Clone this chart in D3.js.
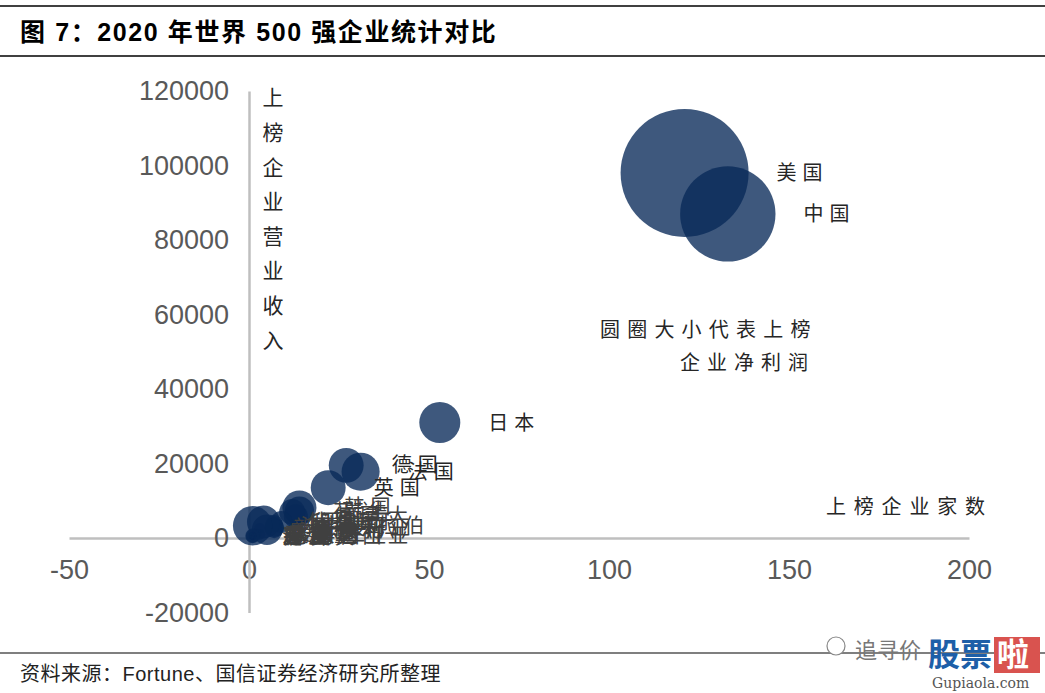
<!DOCTYPE html>
<html><head><meta charset="utf-8">
<script src="https://cdn.jsdelivr.net/npm/d3@7/dist/d3.min.js"></script>
<style>
html,body{margin:0;padding:0;background:#fff;}
svg{display:block;}
</style></head>
<body>
<script>
// ---- data ----
const countries = ["美国","中国","日本","德国","法国","英国","韩国","瑞士","加拿大","荷兰","西班牙","印度","巴西","澳大利亚","意大利","俄罗斯","新加坡","爱尔兰","墨西哥","瑞典","沙特阿拉伯","比利时","丹麦","芬兰","挪威","泰国","马来西亚","印度尼西亚","土耳其","卢森堡","波兰"];
const companyCount = [121,133,53,27,31,22,14,14,13,12,9,7,7,7,5,4,3,3,2,2,1,1,1,1,1,1,1,1,1,1,1];
const revenue = [98000,87000,31000,19500,17800,13500,8200,7200,5800,7000,4300,3900,2900,2600,2200,4300,2600,1000,1300,900,3300,520,390,260,640,720,570,540,240,700,370];
const profit = [8470,4700,870,630,750,630,600,450,300,350,250,150,200,200,480,560,60,60,40,50,800,90,30,10,20,30,110,25,10,5,5];
const xTicks = [-50,0,50,100,150,200];
const yTicks = [-20000,0,20000,40000,60000,80000,100000,120000];
const titleText = "图 7：2020 年世界 500 强企业统计对比";
const sourceText = "资料来源：Fortune、国信证券经济研究所整理";
const yTitle = "上榜企业营业收入";
const xTitle = "上榜企业家数";
const noteLines = ["圆圈大小代表上榜","企业净利润"];

const W = 1045, H = 693;
const svg = d3.select("body").append("svg").attr("width", W).attr("height", H);

const cjk = "'Noto Sans CJK SC','Noto Sans',sans-serif";
const latin = "'Liberation Sans',Arial,'Noto Sans CJK SC',sans-serif";

// title block
svg.append("line").attr("x1",0).attr("x2",W).attr("y1",6).attr("y2",6).attr("stroke","#000").attr("stroke-width",1.5);
svg.append("line").attr("x1",0).attr("x2",W).attr("y1",56).attr("y2",56).attr("stroke","#000").attr("stroke-width",1.5);
svg.append("text").attr("x",20).attr("y",41).attr("font-family",latin).attr("font-weight","bold")
  .attr("font-size",25).attr("letter-spacing",1.6).attr("fill","#000").text(titleText);

// scales
const x = d3.scaleLinear().domain([-50,200]).range([69,969]);
const y = d3.scaleLinear().domain([-20000,120000]).range([612.5,91]);
const r = d3.scaleSqrt().domain([0,8470]).range([0,64]);

const axisColor = "#bfbfbf";
const fmt = d => String(d);
// x axis at y=0
const gx = svg.append("g").attr("transform",`translate(0,${y(0)})`)
  .call(d3.axisBottom(x).tickValues(xTicks).tickSize(0).tickPadding(22).tickFormat(fmt));
gx.select(".domain").attr("stroke",axisColor).attr("stroke-width",2.5);
gx.selectAll("text").attr("font-family",latin).attr("font-size",27).attr("fill","#595959");

// y axis at x=0
const gy = svg.append("g").attr("transform",`translate(${x(0)},0)`)
  .call(d3.axisLeft(y).tickValues(yTicks).tickSize(0).tickPadding(20).tickFormat(fmt));
gy.select(".domain").attr("stroke",axisColor).attr("stroke-width",2.5);
gy.selectAll("text").attr("font-family",latin).attr("font-size",27).attr("fill","#595959");

// bubbles
const data = countries.map((c,i)=>({name:c, n:companyCount[i], rev:revenue[i], p:profit[i]}));
svg.append("g").selectAll("circle").data(data).join("circle")
  .attr("cx",d=>x(d.n)).attr("cy",d=>y(d.rev)).attr("r",d=>r(d.p))
  .attr("fill","#082958").attr("fill-opacity",0.78);

// data labels
svg.append("g").selectAll("text").data(data).join("text")
  .attr("x",d=>x(d.n)+r(d.p)+28).attr("y",d=>y(d.rev)).attr("dy","0.35em")
  .attr("font-family",cjk).attr("font-size",20).attr("letter-spacing",6)
  .attr("fill",(d,i)=> i<6 ? "#262626" : "#404040").text(d=>d.name);

// y title (vertical stacked)
svg.append("g").selectAll("text").data(Array.from(yTitle)).join("text")
  .attr("x",273).attr("y",(d,i)=>98+i*34.6).attr("dy","0.35em").attr("text-anchor","middle")
  .attr("font-family",cjk).attr("font-size",21).attr("fill","#262626").text(d=>d);

// x title
svg.append("text").attr("x",826).attr("y",507).attr("dy","0.35em")
  .attr("font-family",cjk).attr("font-size",20).attr("letter-spacing",7.8).attr("fill","#262626").text(xTitle);

// note
svg.append("text").attr("x",600).attr("y",330).attr("dy","0.35em")
  .attr("font-family",cjk).attr("font-size",20).attr("letter-spacing",7.2).attr("fill","#262626").text(noteLines[0]);
svg.append("text").attr("x",680).attr("y",363).attr("dy","0.35em")
  .attr("font-family",cjk).attr("font-size",20).attr("letter-spacing",7).attr("fill","#262626").text(noteLines[1]);

// footer
svg.append("line").attr("x1",0).attr("x2",W).attr("y1",653).attr("y2",653).attr("stroke","#000").attr("stroke-width",1.2);
svg.append("text").attr("x",20).attr("y",674).attr("dy","0.35em")
  .attr("font-family",latin).attr("font-size",20).attr("letter-spacing",0.5).attr("fill","#222").text(sourceText);

// watermark
const wm = svg.append("g");
wm.append("circle").attr("cx",836).attr("cy",646).attr("r",9).attr("fill","#fff").attr("stroke","#888").attr("stroke-width",1.2);
wm.append("text").attr("x",855).attr("y",650).attr("dy","0.35em").attr("font-family",cjk).attr("font-size",22).attr("fill","#777").text("追寻价");
wm.append("text").attr("x",928).attr("y",655).attr("dy","0.35em").attr("font-family",cjk).attr("font-weight","bold").attr("font-size",32).attr("fill","#1d5fa8").text("股票");
wm.append("rect").attr("x",994).attr("y",637).attr("width",46).attr("height",36).attr("fill","#d9534f");
wm.append("text").attr("x",997).attr("y",655).attr("dy","0.35em").attr("font-family",cjk).attr("font-weight","bold").attr("font-size",32).attr("fill","#fff").text("啦");
wm.append("text").attr("x",932).attr("y",683).attr("dy","0.35em").attr("font-family","'DejaVu Serif',serif").attr("font-size",14).attr("fill","#555").text("Gupiaola.com");
</script>
</body></html>
